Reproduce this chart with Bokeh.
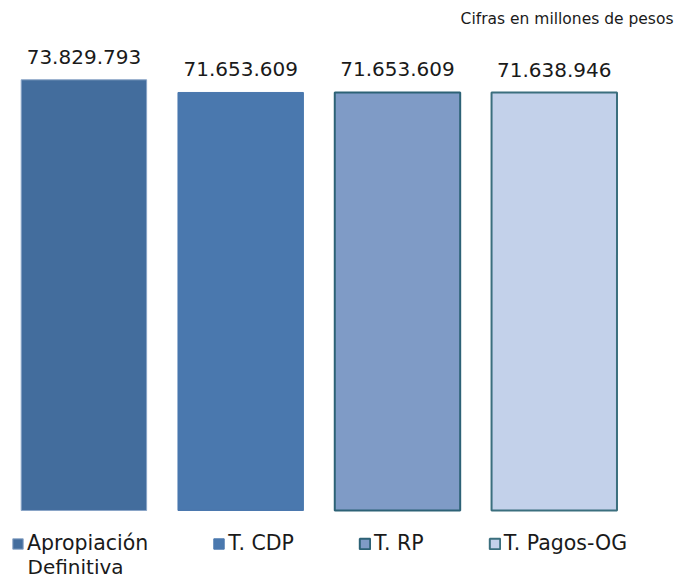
from bokeh.plotting import figure
from bokeh.models import ColumnDataSource, Range1d, Legend, LegendItem, Label
from bokeh.core.properties import value
from bokeh.embed import file_html
from bokeh.resources import INLINE

categories = ["Apropiación\nDefinitiva", "T. CDP", "T. RP", "T. Pagos-OG"]
values = [73829793, 71653609, 71653609, 71638946]
value_labels = ["73.829.793", "71.653.609", "71.653.609", "71.638.946"]
note = "Cifras en millones de pesos"

fills = ["#436D9D", "#4A78AE", "#7F9BC6", "#C3D1EA"]
lines = ["#8AA5C7", "#4A78AE", "#2D6276", "#3B6F7E"]
line_widths = [1, 1, 2, 2]

W, H = 677, 579
p = figure(width=W, height=H, output_backend="svg", toolbar_location=None,
           x_range=Range1d(-0.532, 3.786), y_range=Range1d(-11830000, 87420000),
           min_border=0, outline_line_color=None)
p.axis.visible = False
p.grid.visible = False
p.background_fill_color = "white"
p.border_fill_color = "white"

items = []
for i, (cat, v) in enumerate(zip(categories, values)):
    src = ColumnDataSource(dict(x=[i], top=[v], lab=[value_labels[i]]))
    r = p.vbar(x="x", top="top", bottom=0, width=0.80, source=src,
               fill_color=fills[i], line_color=lines[i], line_width=line_widths[i])
    p.text(x="x", y="top", text="lab", source=src, text_align="center",
           text_baseline="alphabetic", y_offset=-23, text_font_size="20px",
           text_font=value("DejaVu Sans"), text_color="#1a1a1a")
    first_line = cat.split("\n")[0]
    items.append(LegendItem(label=first_line, renderers=[r]))

legend = Legend(items=items, orientation="horizontal", location=(11, 24),
                glyph_width=13, glyph_height=13, label_standoff=3, spacing=64,
                padding=0, margin=0, border_line_color=None,
                background_fill_alpha=0, label_text_font="DejaVu Sans",
                label_text_font_size="20.5px", label_text_color="#1a1a1a")
p.add_layout(legend)

# second line of the first legend entry
second_line = categories[0].split("\n")[1]
p.add_layout(Label(x=27, y=13, x_units="screen", y_units="screen",
                   text=second_line, text_align="left", text_baseline="alphabetic",
                   text_font="DejaVu Sans", text_font_size="20px",
                   text_color="#1a1a1a"))

p.add_layout(Label(x=673, y=H - 18.7, x_units="screen", y_units="screen",
                   text=note, text_align="right", text_baseline="alphabetic",
                   text_font="DejaVu Sans", text_font_size="15.5px",
                   text_color="#1a1a1a"))

open("out.html", "w").write(file_html(p, INLINE))
